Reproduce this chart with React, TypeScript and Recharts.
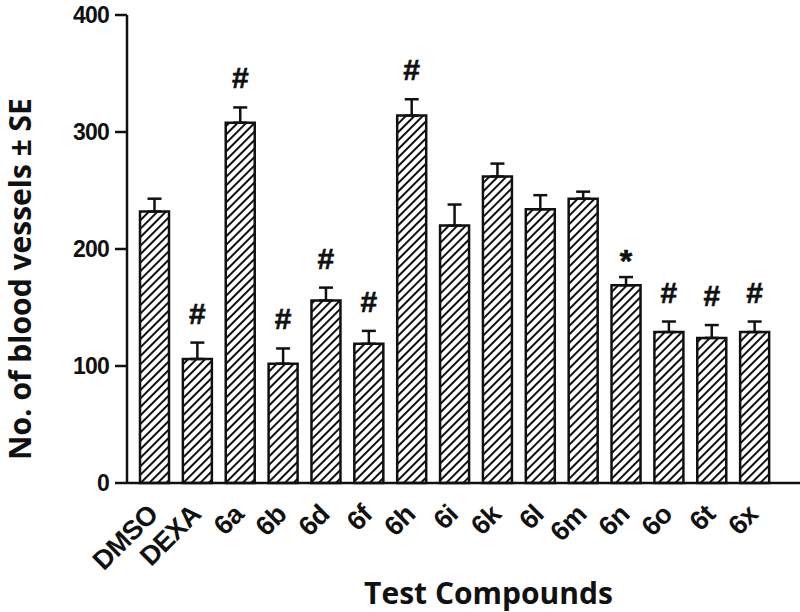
import { BarChart, Bar, XAxis, YAxis, ErrorBar, LabelList } from "recharts";

const categories = ["DMSO", "DEXA", "6a", "6b", "6d", "6f", "6h", "6i", "6k", "6l", "6m", "6n", "6o", "6t", "6x"];
const means = [232, 106, 308, 102, 156, 119, 314, 220, 262, 234, 243, 169, 129, 124, 129];
const errors = [11, 14, 13, 13, 11, 11, 14, 18, 11, 12, 6, 7, 9, 11, 9];
const marks = ["", "#", "#", "#", "#", "#", "#", "", "", "", "", "*", "#", "#", "#"];
const yTicks = [0, 100, 200, 300, 400];

const rows = categories.map((name, i) => ({
  name,
  value: means[i],
  se: errors[i],
  mark: marks[i],
}));

const INK = "#111";
const numFont = "'Liberation Sans', Arial, sans-serif";
const titleFont = "'Open Sans', 'Noto Sans', sans-serif";

const XTick = ({ x, y, payload }: any) => {
  const tx = x + 5;
  const ty = y + 25;
  return (
    <text
      x={tx}
      y={ty}
      transform={`rotate(-45, ${tx}, ${ty})`}
      textAnchor="end"
      fontFamily={numFont}
      fontWeight="bold"
      fontSize={27}
      letterSpacing={-0.6}
      fill={INK}
    >
      {payload.value}
    </text>
  );
};

const MarkLabel = (p: any) => {
  const { x, y, width, height, index } = p;
  const d = rows[index];
  if (!d || !d.mark) return null;
  const capY = y - (d.se * height) / d.value;
  const star = d.mark === "*";
  return (
    <text
      x={x + width / 2}
      y={star ? capY - 5 : capY - 19}
      textAnchor="middle"
      fontFamily={numFont}
      fontWeight="bold"
      fontSize={star ? 32 : 30}
      stroke={INK}
      strokeWidth={0.6}
      fill={INK}
    >
      {d.mark}
    </text>
  );
};

export default function App() {
  return (
    <div style={{ position: "absolute", left: 0, top: 0, width: 800, height: 612, background: "#fff" }}>
      <BarChart
        width={800}
        height={612}
        data={rows}
        margin={{ top: 15, right: 0, bottom: 0, left: 0 }}
        barSize={29}
      >
        <defs>
          <pattern
            id="hatch"
            patternUnits="userSpaceOnUse"
            width={6}
            height={6}
            patternTransform="rotate(45)"
          >
            <rect width={6} height={6} fill="#fff" />
            <line x1={3} y1={0} x2={3} y2={6} stroke={INK} strokeWidth={2} />
          </pattern>
        </defs>
        <XAxis
          dataKey="name"
          height={129}
          interval={0}
          tickLine={false}
          axisLine={{ stroke: INK, strokeWidth: 2.5 }}
          tick={<XTick />}
          padding={{ left: 6, right: 24 }}
          label={{
            value: "Test Compounds",
            position: "insideBottom",
            offset: 8,
            dx: 25,
            style: { fontFamily: titleFont, fontWeight: 700, fontSize: 30, fill: INK },
          }}
        />
        <YAxis
          width={127}
          domain={[0, 400]}
          ticks={yTicks}
          tickSize={12}
          tickMargin={6}
          tickLine={{ stroke: INK, strokeWidth: 2.5 }}
          axisLine={{ stroke: INK, strokeWidth: 2.5 }}
          tick={{ fontFamily: numFont, fontWeight: "bold", fontSize: 23, letterSpacing: -0.8, fill: INK }}
          label={{
            value: "No. of blood vessels ± SE",
            angle: -90,
            position: "insideLeft",
            offset: 20,
            dy: 30,
            style: { fontFamily: titleFont, fontWeight: 700, fontSize: 30, fill: INK, textAnchor: "middle" },
          }}
        />
        <Bar
          dataKey="value"
          fill="url(#hatch)"
          stroke={INK}
          strokeWidth={2.5}
          isAnimationActive={false}
        >
          <ErrorBar
            dataKey={(d: any) => [0, d.se]}
            width={7}
            stroke={INK}
            strokeWidth={2.5}
            direction="y"
          />
          <LabelList dataKey="mark" content={<MarkLabel />} />
        </Bar>
      </BarChart>
    </div>
  );
}
